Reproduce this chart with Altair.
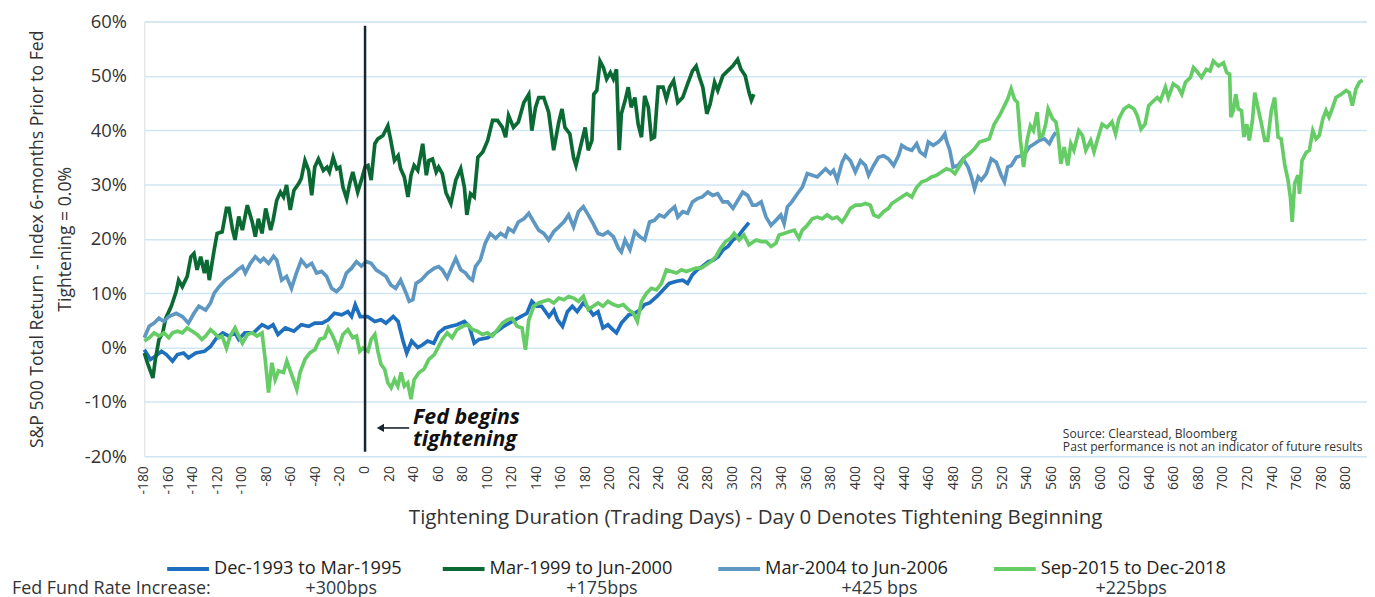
import altair as alt
import pandas as pd

# ---------------- data ----------------
series_names = ["Dec-1993 to Mar-1995", "Mar-1999 to Jun-2000",
                "Mar-2004 to Jun-2006", "Sep-2015 to Dec-2018"]
series_colors = ["#1f6fbf", "#0b6a34", "#5e98c2", "#66cc66"]
rate_labels = ["+300bps", "+175bps", "+425 bps", "+225bps"]
rate_title = "Fed Fund Rate Increase:"
x_title = "Tightening Duration (Trading Days) - Day 0 Denotes Tightening Beginning"
y_title = ["S&P 500 Total Return - Index 6-months Prior to Fed", "Tightening = 0.0%"]

dec93_days = [-180, -175, -171, -166, -162, -157, -153, -148, -144, -138, -131, -126, -121, -116, -111, -106,
              -103, -98, -91, -84, -79, -75, -71, -65, -58, -52, -46, -41, -35, -30, -25, -19, -14, -11, -8, -4,
              2, 8, 13, 17, 23, 27, 31, 34, 38, 43, 47, 51, 56, 60, 65, 70, 75, 81, 85, 89, 93, 100, 106, 113,
              120, 127, 132, 136, 140, 144, 150, 154, 157, 161, 165, 169, 173, 178, 182, 186, 190, 194, 198,
              202, 205, 209, 215, 220, 224, 228, 232, 238, 243, 248, 254, 259, 263, 267, 271, 275, 280, 284,
              288, 292, 296, 300, 304, 308, 313]
dec93_vals = [-0.4, -2.2, -1.6, -0.7, -1.3, -2.5, -1.3, -1.0, -1.9, -1.0, -0.7, 0.2, 1.8, 2.7, 2.1, 2.7,
              1.5, 2.7, 2.7, 4.2, 3.6, 4.2, 2.4, 3.6, 3.0, 4.2, 3.9, 4.5, 4.5, 5.1, 6.3, 6.0, 6.6, 5.7, 7.9, 5.7,
              5.7, 4.8, 5.1, 4.5, 5.7, 4.8, 1.2, -1.0, 1.2, 0.0, 0.5, 1.2, 0.8, 2.7, 3.6, 3.9, 4.2, 4.8, 3.9, 0.8,
              1.5, 1.8, 2.7, 3.9, 4.8, 5.7, 6.3, 8.5, 7.6, 7.6, 5.7, 6.9, 5.1, 3.9, 6.6, 7.6, 6.6, 8.2, 7.3, 6.0,
              6.6, 3.6, 4.2, 3.3, 2.7, 4.5, 6.0, 6.3, 6.9, 7.9, 8.2, 9.4, 10.6, 11.8, 12.2, 12.4, 11.8, 13.4,
              14.3, 14.9, 15.8, 16.1, 16.7, 18.0, 18.6, 19.8, 20.4, 21.6, 23.0]

mar99_days = [-180, -177, -173, -171, -168, -165, -162.5, -158, -154, -152, -149, -145, -142, -139.5, -137, -134,
              -131, -129, -127, -123, -120.6, -116.5, -113, -111, -108, -106, -103, -100, -96, -92, -89.5, -87,
              -84, -81, -77, -75, -72, -69, -66.5, -64, -61, -58, -54, -52, -49, -46, -43.5, -41, -38, -34, -31,
              -29, -26, -23, -20.6, -18, -15, -12.5, -10, -6, -3, 0, 2.4, 5, 8, 10.5, 14.6, 18.6, 21, 24, 27, 29,
              32, 35, 37.5, 40, 43, 47, 50, 52, 55, 58, 60, 63, 66, 70, 74, 78, 81, 83, 86, 89, 92, 96, 100, 104,
              108, 112, 114.6, 117, 121, 125, 129.5, 133.5, 136, 139, 141.6, 145.7, 149.7, 153.8, 158, 160.6, 163,
              167, 170, 172, 175, 179.5, 182, 185, 186.5, 189, 191.6, 194.4, 197, 200, 202.5, 205, 207.3, 209,
              212, 214.6, 217, 220, 222.7, 225.4, 228, 231, 233.5, 236, 239, 243, 245.7, 248.4, 251.6, 255, 259,
              263, 267, 270, 272.7, 275.4, 278.7, 281.4, 285, 287.6, 291.7, 295.7, 299.8, 303.8, 306.5, 310,
              313, 315, 317]
mar99_vals = [-1.0, -3.1, -5.6, -2.2, 1.5, 2.7, 5.4, 7.6, 10.3, 12.4, 11.2, 13.1, 16.7, 17.3, 14.3, 16.7,
              13.7, 16.1, 12.4, 18.0, 21.0, 21.3, 25.6, 25.6, 21.6, 19.8, 24.1, 21.6, 26.2, 23.1, 20.4, 23.7,
              21.0, 25.6, 21.6, 23.4, 27.1, 28.6, 27.7, 29.9, 25.3, 28.9, 30.2, 31.1, 34.4, 32.6, 28.0, 33.2,
              34.7, 32.6, 33.2, 32.3, 35.0, 32.9, 33.2, 29.5, 27.4, 30.2, 32.3, 28.6, 30.8, 33.2, 33.5, 30.8,
              37.5, 38.4, 39.0, 40.8, 38.1, 34.4, 35.3, 32.9, 31.4, 27.7, 31.7, 33.5, 32.6, 37.5, 31.7, 34.4,
              34.7, 32.3, 33.2, 32.0, 28.5, 26.5, 30.8, 32.9, 29.5, 24.4, 28.3, 27.7, 35.0, 36.0, 38.1, 41.8,
              41.8, 40.5, 38.7, 42.7, 40.5, 41.5, 45.1, 46.6, 39.9, 44.2, 46.0, 46.0, 43.3, 36.3, 41.5, 43.9,
              40.5, 39.3, 35.0, 33.5, 36.3, 40.5, 36.3, 38.1, 46.6, 47.3, 52.7, 51.5, 49.4, 50.6, 49.4, 51.2,
              36.3, 43.0, 45.4, 47.9, 44.2, 46.0, 41.1, 38.7, 46.3, 44.2, 38.4, 38.7, 47.9, 47.9, 45.7, 47.9,
              49.1, 45.1, 46.0, 48.5, 50.9, 51.8, 49.7, 47.9, 43.0, 44.8, 48.8, 47.3, 50.0, 50.9, 51.8, 53.0,
              51.2, 50.0, 47.0, 45.5, 46.6]

mar04_days = [-180, -176, -172, -168, -164, -160, -154, -149, -144, -139.5, -135.5, -130, -126, -123, -119, -114,
              -108, -104, -100, -97.6, -93.5, -89.5, -85.4, -82.7, -78.7, -74.6, -72, -68, -64, -60, -56, -52,
              -47.6, -43.5, -39.5, -35.4, -31.4, -27.3, -23.3, -19.2, -15.2, -11, -7, -3, 1, 5, 9, 13, 17, 21,
              25, 29, 33.5, 36, 39, 41.6, 45.7, 51, 56.5, 60, 63, 67, 71, 74, 78, 82, 85, 87.6, 90, 94, 98, 102,
              106.5, 110.6, 114.6, 117, 121, 125, 129.5, 133.5, 137.6, 141.6, 145.7, 149.7, 153.8, 158, 162, 166,
              170, 174, 178, 182, 186, 190, 194, 198, 202.5, 206.5, 209, 212, 216, 220, 224, 228, 232, 236, 240,
              244, 248, 252.5, 255, 259, 263, 267, 271, 275, 279.5, 283.5, 287.6, 291.7, 295.7, 300, 304, 308,
              312, 316, 319, 323, 327, 331, 335, 339, 341.7, 344.4, 348, 352.5, 356.6, 360.6, 364.7, 368.7,
              372.8, 375.5, 379.5, 382, 385, 389, 391.7, 395.7, 399.8, 404, 408, 410.6, 414.7, 418.7, 422.8,
              426.8, 431, 435, 437.6, 441.7, 445.8, 449.8, 452.5, 456.6, 459.3, 463.3, 467.4, 470, 472.8, 474,
              476.8, 479.5, 483.6, 487.6, 491.7, 494.4, 497, 500, 502.5, 506.6, 510.6, 514.7, 518.7, 521.4, 524,
              527, 531, 535, 539, 541.7, 545.8, 549.8, 554, 558, 560.6, 563.3]
mar04_vals = [1.8, 3.9, 4.5, 5.4, 4.8, 5.7, 6.3, 5.7, 4.5, 6.3, 7.6, 6.9, 8.2, 10.0, 11.2, 12.4,
              13.4, 14.3, 14.9, 13.7, 15.5, 16.7, 15.8, 16.4, 15.5, 16.8, 16.1, 12.4, 13.1, 10.9, 13.7, 16.1,
              14.9, 15.5, 13.7, 14.0, 13.1, 10.9, 10.3, 11.2, 13.7, 14.6, 15.8, 15.0, 15.8, 15.5, 14.3, 13.7, 13.1,
              11.5, 10.9, 12.4, 10.0, 8.5, 8.8, 11.8, 12.4, 13.7, 14.6, 14.9, 14.3, 12.8, 14.9, 16.4, 14.3, 13.7,
              12.8, 12.4, 14.9, 16.1, 19.2, 21.0, 20.1, 21.0, 20.4, 21.9, 21.3, 23.1, 23.7, 24.7, 23.1, 21.6,
              21.0, 19.8, 21.3, 22.2, 23.1, 24.4, 22.2, 25.0, 25.9, 24.4, 22.8, 21.0, 20.7, 21.3, 20.4, 18.3,
              17.6, 19.8, 18.0, 21.3, 20.4, 19.8, 23.1, 23.4, 24.4, 24.0, 25.0, 25.9, 24.0, 25.0, 24.7, 26.8,
              27.4, 27.7, 28.6, 28.0, 28.3, 26.8, 26.8, 25.6, 27.1, 28.6, 28.0, 26.2, 26.2, 26.8, 24.0, 22.5,
              23.4, 24.4, 22.8, 25.9, 26.8, 28.3, 29.5, 32.0, 31.7, 31.4, 32.3, 32.9, 32.0, 32.6, 30.8, 34.1,
              35.3, 34.4, 32.3, 34.4, 33.5, 31.7, 33.5, 35.0, 35.3, 34.7, 33.5, 35.3, 37.2, 36.6, 36.3, 37.5,
              36.0, 35.3, 37.8, 37.2, 37.8, 38.4, 39.3, 38.1, 36.3, 33.2, 33.5, 34.7, 33.2, 31.4, 29.2, 31.4,
              30.8, 32.0, 34.7, 34.1, 31.7, 30.5, 33.2, 33.5, 35.0, 35.3, 36.0, 36.9, 37.5, 38.1, 38.4, 37.5,
              38.7, 39.6]

sep15_days = [-180, -176, -172, -168, -164, -160, -157, -153, -149, -145, -141, -137, -133, -130, -126, -123,
              -119, -116.5, -113, -110, -106, -103, -100, -96, -92, -88, -84, -81.4, -78.7, -76, -73.3, -70.6,
              -66.5, -63.8, -61, -58.4, -55.7, -53, -49, -45, -41, -37, -33, -30, -27, -24.6, -22, -18, -14, -10,
              -7, -4.3, -1.7, 2.4, 5, 8, 10.5, 13, 16, 18.6, 21.3, 24, 26.7, 29.4, 32, 34.8, 37.5, 40, 44, 48, 52,
              56.5, 60, 63, 67, 71, 75, 79.5, 83.5, 87.6, 91.6, 95.7, 99.7, 103.8, 108, 112, 116, 120, 124, 128,
              130.8, 133.5, 137.6, 141.6, 145.7, 149.7, 153.8, 158, 162, 166, 170, 174, 178, 182, 186, 190, 194,
              198, 202.5, 206.5, 210.6, 214.6, 218.7, 222, 225.4, 229.5, 233.5, 237.6, 241.7, 245.7, 249.8, 254,
              258, 262, 266, 270, 274, 278, 282, 286, 290, 294, 298, 301, 305, 309, 313, 317, 319, 323, 327, 331,
              335, 337.6, 341.7, 345.7, 350, 353.8, 356.6, 360.6, 364.7, 368.7, 372.8, 376.8, 381, 385, 389,
              391.7, 395.7, 400, 404, 408, 412, 414.7, 418.7, 422.8, 426.8, 429.5, 433.6, 437.6, 441.7, 445.8,
              449.8, 454, 458, 462, 466, 470, 474, 478, 481, 485, 489, 493, 497, 501, 505, 509, 513, 517.4,
              521.4, 524, 526.8, 529.5, 532, 534.4, 537, 539.8, 542.5, 545, 548, 550, 552.5, 555, 557, 560.6,
              563.3, 565, 567.4, 570, 573, 575.5, 578, 582, 585, 587.7, 591.7, 594.4, 597, 601, 605, 609, 612,
              614.7, 618.8, 622.8, 627, 629.6, 632.8, 636, 639, 643, 646, 648.5, 652.6, 655, 659, 663, 666, 669,
              673, 675.5, 678, 682, 686, 689, 691.7, 696, 700, 702.6, 705, 706, 708, 710, 712, 714.7, 716.6, 719,
              721, 723.6, 725.5, 728, 731, 733.6, 736, 739, 741.7, 744.5, 747, 750, 752.6, 754.5, 756, 758,
              760.7, 762, 764, 767.4, 770, 772.8, 775.5, 778, 781, 783.6, 786, 789, 791.7, 796, 800, 802.6, 805,
              808, 810.7, 813.4]
sep15_vals = [1.2, 1.8, 2.7, 2.1, 2.7, 1.8, 2.7, 3.0, 2.7, 3.6, 3.0, 2.4, 1.5, 2.1, 3.3, 2.7,
              1.8, 2.1, -0.1, 2.1, 3.6, 2.1, 0.8, 2.4, 2.7, 2.1, 2.7, -2.2, -8.3, -2.8, -5.9, -4.3,
              -4.6, -2.5, -4.3, -5.9, -7.7, -4.6, -2.2, -1.0, -0.4, 1.5, 1.8, 3.6, 2.4, 1.2, -0.4, 2.4, 3.3, 1.8,
              2.1, -0.7, -0.1, -0.7, 1.5, 2.4, -0.7, -3.1, -4.0, -6.5, -7.4, -5.9, -7.1, -4.6, -7.1, -6.5, -9.5,
              -5.9, -4.6, -4.0, -2.2, -1.3, 0.2, 1.5, 2.7, 1.8, 3.3, 3.9, 4.2, 3.3, 3.0, 2.4, 2.7, 2.1, 3.3, 4.5,
              5.1, 5.4, 3.9, 3.6, -0.4, 5.1, 7.6, 8.2, 8.5, 8.8, 8.2, 9.1, 8.8, 9.4, 9.1, 8.5, 9.4, 7.0, 7.6,
              8.2, 7.6, 8.5, 7.9, 7.6, 7.9, 7.0, 6.3, 4.8, 8.5, 10.0, 10.9, 10.6, 11.8, 14.3, 14.0, 13.7, 14.3,
              14.0, 14.3, 14.6, 14.6, 15.2, 15.8, 16.7, 18.3, 19.5, 20.1, 21.0, 19.8, 20.7, 18.9, 19.5, 19.8,
              19.5, 19.5, 18.6, 19.2, 20.7, 21.0, 21.3, 21.6, 20.1, 21.6, 22.5, 23.7, 24.0, 23.7, 24.4, 23.7,
              24.0, 23.1, 24.0, 25.6, 26.2, 26.2, 26.5, 26.2, 24.4, 24.0, 25.0, 25.6, 26.5, 27.1, 27.7, 28.3,
              27.7, 29.5, 30.5, 30.8, 31.4, 31.7, 32.3, 32.9, 32.6, 32.0, 33.5, 35.0, 35.7, 36.6, 37.8, 38.1,
              38.4, 41.1, 42.7, 44.5, 45.7, 47.6, 45.7, 45.1, 38.1, 33.2, 38.1, 40.8, 39.9, 43.3, 38.7, 39.0,
              41.1, 43.9, 42.1, 41.5, 39.3, 33.8, 36.9, 33.5, 37.5, 36.3, 39.9, 39.0, 36.3, 38.1, 36.0, 38.1,
              41.1, 40.5, 41.5, 39.3, 42.1, 43.9, 44.5, 43.9, 42.7, 40.2, 41.1, 44.5, 45.4, 46.0, 45.4, 47.9,
              46.0, 48.5, 47.9, 46.6, 48.8, 49.7, 51.5, 50.9, 49.7, 51.2, 50.9, 52.7, 51.8, 52.4, 50.6, 50.3,
              42.4, 43.6, 46.6, 43.9, 43.6, 38.7, 41.1, 38.1, 41.8, 46.9, 44.2, 41.1, 38.1, 38.1, 43.6, 46.0,
              38.7, 38.4, 33.5, 30.8, 27.7, 23.1, 30.2, 31.7, 28.3, 34.4, 35.9, 36.3, 39.9, 38.4, 39.0, 42.1,
              43.6, 42.4, 44.2, 46.0, 46.6, 47.3, 46.9, 44.5, 47.6, 48.8, 49.2]

x_ticks = list(range(-180, 801, 20))
x_tick_labels = [str(t) for t in x_ticks]
y_ticks = list(range(-20, 61, 10))

# ---------------- build table ----------------
frames = []
for i, (name, d, v) in enumerate(zip(series_names,
                                     [dec93_days, mar99_days, mar04_days, sep15_days],
                                     [dec93_vals, mar99_vals, mar04_vals, sep15_vals])):
    frames.append(pd.DataFrame({"day": d, "ret": v, "series": name, "ord": i}))
df = pd.concat(frames, ignore_index=True)
tick_df = pd.DataFrame({"tick": x_ticks, "lbl": x_tick_labels})

FONT = "Open Sans"
TXT = "#333333"
DARK = "#17262f"
W, H = 1229, 437

xscale = alt.Scale(domain=[-180, 817], nice=False, zero=False)
yscale = alt.Scale(domain=[-20, 60], nice=False, zero=False)

lines = alt.Chart(df).mark_line(strokeWidth=3.7).encode(
    x=alt.X("day:Q", scale=xscale, axis=None),
    y=alt.Y("ret:Q", scale=yscale,
            axis=alt.Axis(values=y_ticks, labelExpr="datum.value + '%'", grid=True,
                          gridColor="#cfe6f3", gridWidth=1.5, domain=False, ticks=False,
                          labelFontSize=18.5, labelFont=FONT, labelColor=TXT, labelPadding=18,
                          labelOverlap=False,
                          title=y_title,
                          titleFont=FONT, titleFontSize=17.7, titleFontWeight="normal", titleColor=TXT,
                          titleAngle=270, titleX=-102, titleY=H / 2, titleAlign="center",
                          titleBaseline="alphabetic", titleLineHeight=28)),
    color=alt.Color("series:N", sort=series_names,
                    scale=alt.Scale(domain=series_names, range=series_colors),
                    legend=alt.Legend(orient="none", legendX=21, legendY=527, direction="horizontal",
                                      columns=4, gridAlign="all", columnPadding=33, title=None,
                                      symbolType="stroke", symbolSize=1764, symbolStrokeWidth=4,
                                      labelFont=FONT, labelFontSize=18.3, labelColor="#222222",
                                      labelOffset=3, labelLimit=400)),
    detail="series:N",
    order="day:Q",
)

# x tick labels, rotated, placed through the x scale
xlabels = alt.Chart(tick_df).mark_text(angle=270, align="right", baseline="middle", font=FONT,
                                       fontSize=14, color=TXT).encode(
    x=alt.X("tick:Q", scale=xscale, axis=None),
    y=alt.value(H + 10),
    text="lbl:N",
)

one = pd.DataFrame({"k": [0]})

xtitle = alt.Chart(one).mark_text(align="center", baseline="middle", font=FONT, fontSize=20.6,
                                  color=TXT).encode(
    x=alt.value(W / 2), y=alt.value(H + 62), text=alt.value(x_title))

vline = alt.Chart(one).mark_rule(color=DARK, strokeWidth=2.5).encode(
    x=alt.datum(0), y=alt.datum(59.2), y2=alt.datum(-19.2))

arrow_line = alt.Chart(one).mark_rule(color=DARK, strokeWidth=1.6).encode(
    x=alt.datum(13), x2=alt.datum(36), y=alt.datum(-14.8))
arrow_head = alt.Chart(one).mark_point(shape="triangle-left", filled=True, color=DARK,
                                       size=70, opacity=1).encode(
    x=alt.datum(12.5), y=alt.datum(-14.8))

ann1 = alt.Chart(one).mark_text(align="left", baseline="middle", font=FONT, fontSize=21.5,
                                fontWeight="bold", fontStyle="italic", color="#111111").encode(
    x=alt.datum(39), y=alt.datum(-12.9), text=alt.value("Fed begins"))
ann2 = alt.Chart(one).mark_text(align="left", baseline="middle", font=FONT, fontSize=21.5,
                                fontWeight="bold", fontStyle="italic", color="#111111").encode(
    x=alt.datum(39), y=alt.datum(-17.1), text=alt.value("tightening"))

src1 = alt.Chart(one).mark_text(align="left", baseline="middle", font=FONT, fontSize=12.2,
                                color="#333333").encode(
    x=alt.datum(569), y=alt.datum(-16.0), text=alt.value("Source: Clearstead, Bloomberg"))
src2 = alt.Chart(one).mark_text(align="left", baseline="middle", font=FONT, fontSize=12.2,
                                color="#333333").encode(
    x=alt.datum(569), y=alt.datum(-18.4),
    text=alt.value("Past performance is not an indicator of future results"))

rate_head = alt.Chart(one).mark_text(align="left", baseline="middle", font=FONT, fontSize=18,
                                     color="#333333").encode(
    x=alt.value(-133), y=alt.value(570), text=alt.value(rate_title))
rate_x = [198, 460, 739, 992]
rate_layers = [
    alt.Chart(one).mark_text(align="center", baseline="middle", font=FONT, fontSize=18,
                             color="#2b3a44").encode(
        x=alt.value(px), y=alt.value(570), text=alt.value(lbl))
    for px, lbl in zip(rate_x, rate_labels)
]

chart = alt.layer(lines, xlabels, xtitle, vline, arrow_line, arrow_head, ann1, ann2, src1, src2,
                  rate_head, *rate_layers).properties(
    width=W, height=H,
    autosize=alt.AutoSizeParams(type="none"),
    padding={"left": 137, "top": 12, "right": 0, "bottom": 142},
).configure_view(stroke=None).configure(background="white")

chart.save("out.html", embed_options={"renderer": "svg", "actions": False})
